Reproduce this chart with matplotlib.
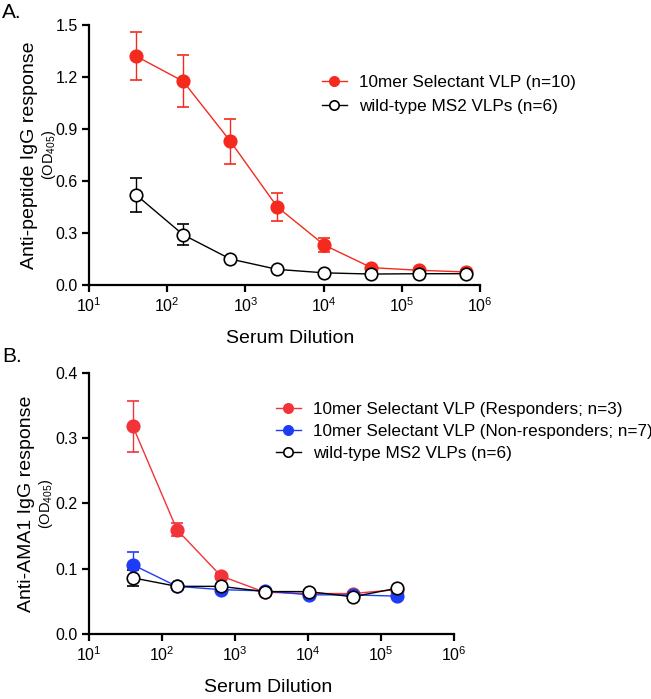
import math
import matplotlib
matplotlib.use("Agg")
import matplotlib.pyplot as plt
from matplotlib.ticker import FixedLocator, FuncFormatter, NullLocator

plt.rcParams['font.family'] = ['Liberation Sans', 'DejaVu Sans']
plt.rcParams['mathtext.fontset'] = 'custom'
plt.rcParams['mathtext.rm'] = 'Liberation Sans'
plt.rcParams['mathtext.it'] = 'Liberation Sans'
plt.rcParams['mathtext.bf'] = 'Liberation Sans'

# ---- data ----
dil_a = [40, 160, 640, 2560, 10240, 40960, 163840, 655360]
sel_a = [1.32, 1.175, 0.83, 0.45, 0.23, 0.10, 0.085, 0.075]
sel_a_err = [0.14, 0.15, 0.13, 0.08, 0.04, 0.01, 0.008, 0.006]
wt_a = [0.52, 0.29, 0.15, 0.09, 0.07, 0.063, 0.065, 0.065]
wt_a_err = [0.10, 0.06, 0.01, 0.006, 0.005, 0.004, 0.004, 0.004]

dil_b = [40, 160, 640, 2560, 10240, 40960, 163840]
resp_b = [0.318, 0.160, 0.089, 0.064, 0.062, 0.062, 0.068]
resp_b_err = [0.039, 0.010, 0.004, 0.003, 0.003, 0.003, 0.003]
nonresp_b = [0.106, 0.073, 0.068, 0.066, 0.060, 0.060, 0.058]
nonresp_b_err = [0.020, 0.003, 0.003, 0.002, 0.002, 0.002, 0.002]
wt_b = [0.086, 0.073, 0.073, 0.065, 0.065, 0.057, 0.070]
wt_b_err = [0.012, 0.003, 0.003, 0.002, 0.002, 0.002, 0.002]

labels_a = ['10mer Selectant VLP (n=10)', 'wild-type MS2 VLPs (n=6)']
labels_b = ['10mer Selectant VLP (Responders; n=3)',
            '10mer Selectant VLP (Non-responders; n=7)',
            'wild-type MS2 VLPs (n=6)']
xticks = [1e1, 1e2, 1e3, 1e4, 1e5, 1e6]

RED = '#f52a1e'
RED_B = '#f2333a'
BLUE = '#1e3cf5'

fig = plt.figure(figsize=(6.51, 6.99), dpi=100)
axA = fig.add_axes([0.1367, 0.5923, 0.6006, 0.372])
axB = fig.add_axes([0.1367, 0.0930, 0.5607, 0.3734])

def style(ax, ylim, yticks, yfmt):
    ax.set_xscale('log')
    ax.set_xlim(1e1, 1e6)
    ax.set_ylim(*ylim)
    ax.xaxis.set_major_locator(FixedLocator(xticks))
    ax.xaxis.set_minor_locator(NullLocator())
    ax.xaxis.set_major_formatter(FuncFormatter(lambda v, p: r'$10^{%d}$' % round(math.log10(v))))
    ax.set_yticks(yticks)
    ax.set_yticklabels([yfmt % t for t in yticks])
    for s in ['top', 'right']:
        ax.spines[s].set_visible(False)
    for s in ['left', 'bottom']:
        ax.spines[s].set_linewidth(1.6)
        ax.spines[s].set_clip_on(False)
    ax.tick_params(axis='both', which='major', direction='out', length=5, width=1.6,
                   labelsize=11.5, pad=3)

def series(ax, x, y, e, color, filled, label):
    ax.errorbar(x, y, yerr=e, color=color, lw=1.0, elinewidth=1.0, capsize=4.5, capthick=1.0,
                marker='o', ms=9, mfc=(color if filled else 'white'), mec=(color if filled else 'black'),
                mew=1.2, label=label, clip_on=False, zorder=3)

style(axA, (0, 1.5), [0.0, 0.3, 0.6, 0.9, 1.2, 1.5], '%.1f')
series(axA, dil_a, sel_a, sel_a_err, RED, True, labels_a[0])
series(axA, dil_a, wt_a, wt_a_err, 'black', False, labels_a[1])

style(axB, (0, 0.4), [0.0, 0.1, 0.2, 0.3, 0.4], '%.1f')
series(axB, dil_b, resp_b, resp_b_err, RED_B, True, labels_b[0])
series(axB, dil_b, nonresp_b, nonresp_b_err, BLUE, True, labels_b[1])
series(axB, dil_b, wt_b, wt_b_err, 'black', False, labels_b[2])

def legend(ax, anchor, spacing):
    h, l = ax.get_legend_handles_labels()
    h = [hh[0] if hasattr(hh, '__getitem__') else hh for hh in h]
    lg = ax.legend(h, l, loc='upper left', bbox_to_anchor=anchor, bbox_transform=fig.transFigure,
                   frameon=False, fontsize=12.3, handlelength=1.45, handletextpad=0.7,
                   labelspacing=spacing, markerscale=0.75, borderpad=0, borderaxespad=0)
    return lg

legend(axA, (322/651, 1 - 75/699), 0.5)
legend(axB, (276/651, 1 - 402/699), 0.42)

# axis labels
axA.text(-0.153, 0.5, 'Anti-peptide IgG response', transform=axA.transAxes, rotation=90,
         ha='center', va='center', fontsize=14)
axA.text(-0.103, 0.5, r'(OD$_{405}$)', transform=axA.transAxes, rotation=90,
         ha='center', va='center', fontsize=10.5)
axB.text(-0.170, 0.5, 'Anti-AMA1 IgG response', transform=axB.transAxes, rotation=90,
         ha='center', va='center', fontsize=14)
axB.text(-0.117, 0.5, r'(OD$_{405}$)', transform=axB.transAxes, rotation=90,
         ha='center', va='center', fontsize=10.5)

fig.text(290/651, 1 - 338/699, 'Serum Dilution', ha='center', va='center', fontsize=14)
fig.text(268/651, 1 - 688/699, 'Serum Dilution', ha='center', va='center', fontsize=14)
fig.text(2/651, 1 - 12/699, 'A.', ha='left', va='center', fontsize=15)
fig.text(2/651, 1 - 357/699, 'B.', ha='left', va='center', fontsize=15)

fig.savefig('out.png', dpi=100)
